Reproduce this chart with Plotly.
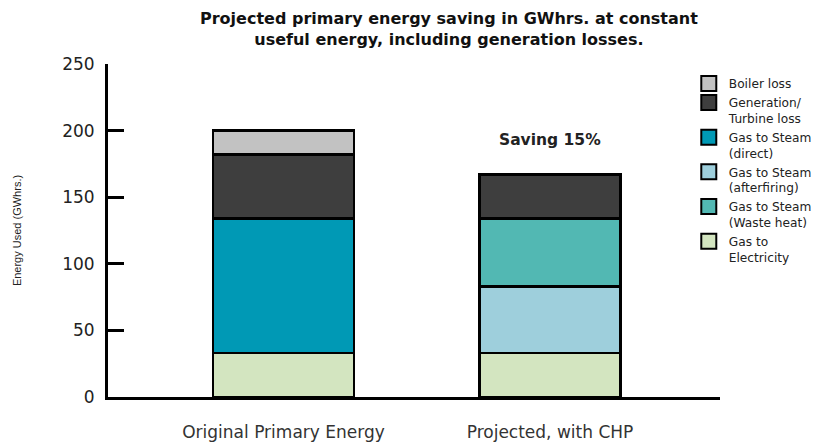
import plotly.graph_objects as go

categories = ["Original Primary Energy", "Projected, with CHP"]
gas_to_electricity = [33, 33]
gas_to_steam_direct = [101, None]
gas_to_steam_afterfiring = [None, 50]
gas_to_steam_waste_heat = [None, 51]
generation_turbine_loss = [48, 33]
boiler_loss = [18, None]

y_ticks = [0, 50, 100, 150, 200, 250]

# (legend label, values, colour, legend rank)
series = [
    ("Gas to<br>Electricity", gas_to_electricity, "#D3E5C0", 6),
    ("Gas to Steam<br>(direct)", gas_to_steam_direct, "#0099B5", 3),
    ("Gas to Steam<br>(afterfiring)", gas_to_steam_afterfiring, "#9ECFDC", 4),
    ("Gas to Steam<br>(Waste heat)", gas_to_steam_waste_heat, "#52B8B3", 5),
    ("Generation/<br>Turbine loss", generation_turbine_loss, "#3E3E3E", 2),
    ("Boiler loss", boiler_loss, "#C2C2C2", 1),
]

fig = go.Figure()
for name, vals, col, rank in series:
    fig.add_trace(go.Bar(
        x=categories, y=vals, name=name, width=0.529, showlegend=False,
        marker=dict(color=col, line=dict(color="black", width=2.5)),
    ))
# legend entries with larger square swatches
for name, vals, col, rank in series:
    fig.add_trace(go.Scatter(
        x=[None], y=[None], mode="markers", name=name, legendrank=rank,
        marker=dict(symbol="square", size=15, color=col, line=dict(color="black", width=2)),
    ))

xr = [-0.6585, 1.638]
fig.update_layout(
    width=820, height=437,
    margin=dict(l=100, r=108, t=56, b=48, autoexpand=False),
    paper_bgcolor="white", plot_bgcolor="white",
    barmode="stack",
    showlegend=True,
    font=dict(family="DejaVu Sans", color="#222"),
    legend=dict(
        x=0.949, xanchor="left", y=0.985, yanchor="top",
        traceorder="normal",
        font=dict(family="DejaVu Sans", size=12.2, color="#222"),
        bgcolor="rgba(0,0,0,0)",
        valign="top",
    ),
    xaxis=dict(
        range=xr, showgrid=False, showline=True, linecolor="black", linewidth=2.5,
        ticks="", tickfont=dict(family="DejaVu Sans", size=17, color="#333"),
        ticklabelstandoff=18, zeroline=False, automargin=False,
    ),
    xaxis2=dict(
        overlaying="x", anchor="y", side="bottom", range=xr,
        tickmode="array", tickvals=[xr[1] - 0.003], ticks="inside", ticklen=6,
        tickwidth=3, tickcolor="black", showticklabels=False, showgrid=False,
        showline=False, zeroline=False, automargin=False,
    ),
    yaxis=dict(
        range=[0, 250], tickvals=y_ticks, showgrid=False, zeroline=False,
        showline=True, linecolor="black", linewidth=3,
        ticks="inside", ticklen=16, tickwidth=3, tickcolor="black",
        tickfont=dict(family="DejaVu Sans", size=17, color="#222"),
        ticklabelstandoff=7, automargin=False,
        title=dict(text="Energy Used (GWhrs.)", standoff=39,
                   font=dict(family="Liberation Sans Narrow, Liberation Sans", size=11, color="#222")),
    ),
    annotations=[
        dict(
            x=0.557, y=1.171, xref="paper", yref="paper", xanchor="center", yanchor="top",
            text="<b>Projected primary energy saving in GWhrs. at constant<br>useful energy, including generation losses.</b>",
            showarrow=False,
            font=dict(family="DejaVu Sans", size=16, color="#111"),
        ),
        dict(
            x=categories[1], y=193, xref="x", yref="y", text="<b>Saving 15%</b>", showarrow=False,
            font=dict(family="DejaVu Sans", size=15.5, color="#222"),
        ),
    ],
)

fig.write_html("out.html")
